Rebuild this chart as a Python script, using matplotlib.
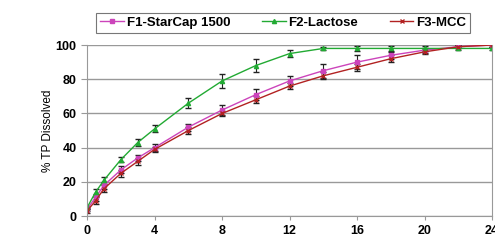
import numpy as np
import matplotlib
matplotlib.use("Agg")
import matplotlib.pyplot as plt
from matplotlib.lines import Line2D

plt.rcParams['font.family'] = ['Liberation Sans', 'DejaVu Sans']
plt.rcParams['font.weight'] = 'bold'

# time (h)
t = [0, 0.5, 1, 2, 3, 4, 6, 8, 10, 12, 14, 16, 18, 20, 22, 24]

# % TP dissolved
f1 = [4, 11, 18, 27, 34, 40, 52, 62, 71, 79, 85, 90, 94, 97, 99, 100]
f2 = [5, 14, 21, 33, 43, 51, 66, 79, 88, 95, 98, 98, 98, 98, 98, 98]
f3 = [3, 9, 16, 25, 32, 39, 50, 60, 68, 76, 82, 87, 92, 96, 99, 100]

# standard deviations
f1_err = [1, 2, 2, 2, 2, 2, 2, 3, 3, 3, 4, 4, 2, 1.5, 1, 1]
f2_err = [1, 2, 2, 1.5, 2, 2, 3, 4, 4, 2, 1, 1.5, 1.5, 1.5, 1, 1]
f3_err = [1, 2, 2, 2, 2, 1.5, 2, 1.5, 2, 2, 2, 2, 2, 1.5, 1, 1]

labels = ['F1-StarCap 1500', 'F2-Lactose', 'F3-MCC']
colors = ['#cc44bb', '#22aa33', '#b22222']
markers = ['s', '^', 'x']

fig = plt.figure(figsize=(4.95, 2.42), dpi=100)
ax = fig.add_axes([0.176, 0.107, 0.818, 0.707])

handles = []
for y, e, c, m, lab in zip([f1, f2, f3], [f1_err, f2_err, f3_err],
                           colors, markers, labels):
    ax.errorbar(t, y, yerr=e, color=c, marker=m, markersize=3, lw=1,
                ecolor='#222222', elinewidth=0.8, capsize=2)
    handles.append(Line2D([], [], color=c, marker=m, markersize=3, lw=1))

ax.set_xlim(0, 24)
ax.set_ylim(0, 100)
ax.set_xticks([0, 4, 8, 12, 16, 20, 24])
ax.set_yticks([0, 20, 40, 60, 80, 100])
ax.yaxis.grid(True, color='#999999', lw=1)
ax.set_axisbelow(True)
for s in ['left', 'right', 'bottom']:
    ax.spines[s].set_color('#999999')
ax.spines['top'].set_visible(False)
ax.tick_params(axis='both', labelsize=9, length=3, color='#999999')
ax.tick_params(axis='y', length=4)
ax.set_ylabel('% TP Dissolved', fontsize=8.5, fontweight='normal', labelpad=1)

leg = fig.legend(handles, labels, loc='upper center', bbox_to_anchor=(0.572, 0.975),
                 ncol=3, fontsize=9.5, frameon=True, fancybox=False,
                 edgecolor='#555555', handlelength=1.8, handletextpad=0.2,
                 columnspacing=2.4, borderpad=0.3)
leg.get_frame().set_linewidth(0.8)

fig.savefig('out.png', dpi=100)
